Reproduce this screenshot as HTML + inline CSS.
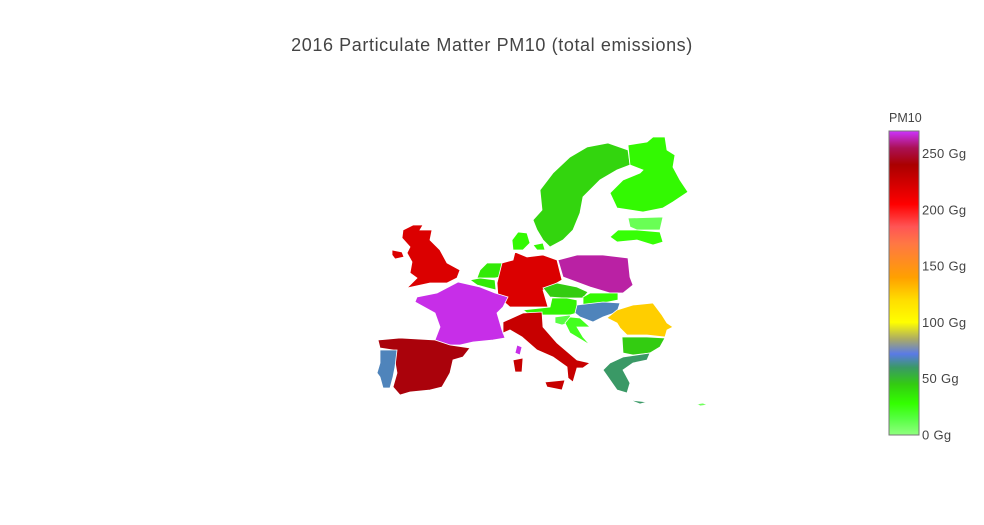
<!DOCTYPE html>
<html><head><meta charset="utf-8">
<style>
html,body{margin:0;padding:0;background:#fff;}
svg{display:block;font-family:"Liberation Sans",sans-serif;}
</style></head>
<body>
<svg id="chart" width="984" height="525" viewBox="0 0 984 525">
<text x="492" y="51" text-anchor="middle" font-size="18" letter-spacing="0.6" fill="#444">2016 Particulate Matter PM10 (total emissions)</text>
<g id="map"></g>
<g id="cbar"></g>
</svg>
<script>
const countries=["Sweden","Finland","Estonia","Latvia-Lithuania","Denmark","Denmark-Islands","United Kingdom","Ireland","Netherlands","Belgium","Germany","Poland","Czechia","Slovakia","Austria","Hungary","Slovenia","Croatia","Romania","Bulgaria","Greece","Crete","Cyprus","France","Corsica","Italy","Sardinia","Sicily","Spain","Portugal"];
const values=[42,30,10,27,30,30,220,220,35,35,220,262,45,30,32,68,14,22,125,45,60,60,8,268,268,228,228,228,242,68];
const tickValues=[0,50,100,150,200,250];
const tickLabels=["0 Gg","50 Gg","100 Gg","150 Gg","200 Gg","250 Gg"];
const shapes={
"Sweden":[[608,143],[628,150],[630,165],[617,170],[600,180],[583,197],[580,213],[573,230],[563,240],[550,247],[543,240],[537,230],[533,220],[542,210],[540,190],[553,173],[570,157],[587,147]],
"Finland":[[628,145],[647,142],[653,137],[665,137],[667,150],[675,155],[673,167],[680,180],[688,192],[673,202],[663,208],[643,212],[617,208],[610,193],[623,180],[640,173],[643,170],[630,165]],
"Estonia":[[628,218],[663,217],[660,230],[637,230],[630,227]],
"Latvia-Lithuania":[[610,237],[618,230],[637,230],[660,232],[663,242],[653,245],[637,240],[617,242]],
"Denmark":[[512,240],[518,232],[527,233],[530,243],[523,250],[513,250]],
"Denmark-Islands":[[533,245],[543,243],[545,250],[537,250]],
"United Kingdom":[[403,230],[413,225],[423,225],[420,230],[432,230],[430,240],[440,250],[447,263],[460,270],[457,278],[447,283],[430,283],[407,288],[417,278],[410,273],[412,262],[407,253],[410,247],[402,238]],
"Ireland":[[392,250],[402,252],[404,257],[395,259],[392,255]],
"Netherlands":[[480,270],[487,263],[502,263],[500,277],[495,278],[488,278],[477,278]],
"Belgium":[[470,280],[480,278],[495,280],[496,290],[488,288],[477,285]],
"Germany":[[515,252],[527,257],[543,255],[557,260],[562,280],[550,287],[543,290],[548,307],[527,307],[510,307],[498,297],[497,283],[502,263],[513,260]],
"Poland":[[558,260],[577,255],[603,255],[628,258],[630,277],[633,285],[623,293],[610,293],[590,287],[563,277]],
"Czechia":[[543,288],[557,283],[577,287],[588,292],[583,298],[563,298],[550,297]],
"Slovakia":[[583,297],[590,293],[618,293],[618,300],[603,303],[583,305]],
"Austria":[[523,310],[550,307],[552,298],[567,298],[577,300],[577,313],[570,315],[543,315],[527,313]],
"Hungary":[[577,305],[603,302],[620,303],[617,312],[603,317],[593,322],[580,317],[575,313]],
"Slovenia":[[555,317],[570,315],[572,322],[562,325],[555,323]],
"Croatia":[[570,317],[580,318],[590,327],[577,327],[583,337],[590,345],[570,333],[565,323]],
"Romania":[[617,310],[633,305],[653,303],[662,315],[667,323],[673,327],[667,330],[665,337],[647,335],[627,335],[620,328],[617,323],[607,318]],
"Bulgaria":[[622,337],[647,337],[665,338],[660,347],[650,353],[633,355],[623,353]],
"Greece":[[610,363],[623,357],[650,353],[647,360],[633,363],[623,370],[630,383],[627,393],[617,390],[610,380],[603,370]],
"Crete":[[630,400],[647,402],[640,404]],
"Cyprus":[[697,404],[703,403],[707,405],[700,406]],
"France":[[437,293],[458,282],[480,287],[495,293],[508,297],[503,307],[497,313],[502,330],[505,338],[493,340],[473,342],[460,345],[450,345],[435,340],[440,327],[435,313],[415,302],[417,297]],
"Corsica":[[517,345],[522,347],[520,355],[515,353]],
"Italy":[[503,322],[523,313],[542,312],[543,327],[557,343],[577,360],[590,363],[583,368],[577,368],[573,382],[568,378],[567,367],[553,357],[537,350],[522,337],[510,330],[503,333]],
"Sardinia":[[513,360],[523,358],[522,372],[515,372]],
"Sicily":[[545,382],[565,380],[562,390],[547,387]],
"Spain":[[378,340],[400,338],[435,340],[450,345],[470,348],[463,357],[453,360],[450,373],[442,387],[430,390],[410,392],[400,395],[393,387],[397,373],[393,350],[380,348]],
"Portugal":[[380,350],[397,350],[395,367],[393,377],[390,388],[383,388],[380,377],[377,373],[380,363]]
};
const stops=[[0,"#90ff80"],[15,"#55ff40"],[28,"#33ff00"],[45,"#33cc11"],[60,"#3a9966"],[72,"#5a7ae6"],[85,"#aaaa66"],[100,"#ffff00"],[120,"#ffdd00"],[140,"#ffa000"],[170,"#ff7744"],[185,"#ff5555"],[205,"#ff0000"],[240,"#aa0000"],[255,"#aa1155"],[270,"#cc33ff"]];
const vmin=0,vmax=270;
function hex(c){return [1,3,5].map(i=>parseInt(c.substr(i,2),16));}
function colorOf(v){
  if(v<=stops[0][0])return stops[0][1];
  for(let i=1;i<stops.length;i++){
    if(v<=stops[i][0]){const a=stops[i-1],b=stops[i];const t=(v-a[0])/(b[0]-a[0]);
      const ca=hex(a[1]),cb=hex(b[1]);return "rgb("+ca.map((x,k)=>Math.round(x+(cb[k]-x)*t)).join(",")+")";}
  }
  return stops[stops.length-1][1];
}
const NS="http://www.w3.org/2000/svg";
const mapG=document.getElementById("map");
countries.forEach((c,i)=>{
  const p=document.createElementNS(NS,"polygon");
  p.setAttribute("points",shapes[c].map(q=>q.join(",")).join(" "));
  p.setAttribute("fill",colorOf(values[i]));
  p.setAttribute("stroke","#fff");p.setAttribute("stroke-width","0.8");
  
  
  const t=document.createElementNS(NS,"title");t.textContent=c+": "+values[i]+" Gg";p.appendChild(t);
  mapG.appendChild(p);
});
const cbG=document.getElementById("cbar");
const cbTop=131,cbBot=435,cbX=889,cbW=30;
function yOf(v){return cbBot-(v-vmin)/(vmax-vmin)*(cbBot-cbTop);}
const defs=document.createElementNS(NS,"defs");
const lg=document.createElementNS(NS,"linearGradient");
lg.setAttribute("id","grad");lg.setAttribute("x1","0");lg.setAttribute("y1","1");lg.setAttribute("x2","0");lg.setAttribute("y2","0");
stops.forEach(s=>{const st=document.createElementNS(NS,"stop");st.setAttribute("offset",(s[0]-vmin)/(vmax-vmin));st.setAttribute("stop-color",s[1]);lg.appendChild(st);});
defs.appendChild(lg);cbG.appendChild(defs);
const r=document.createElementNS(NS,"rect");
r.setAttribute("x",cbX);r.setAttribute("y",cbTop);r.setAttribute("width",cbW);r.setAttribute("height",cbBot-cbTop);
r.setAttribute("fill","url(#grad)");r.setAttribute("stroke","#777");r.setAttribute("stroke-width","1");


cbG.appendChild(r);
const ttl=document.createElementNS(NS,"text");
ttl.setAttribute("x",cbX);ttl.setAttribute("y",122);ttl.setAttribute("font-size","12.5");ttl.setAttribute("fill","#444");ttl.textContent="PM10";


cbG.appendChild(ttl);
tickValues.forEach((v,i)=>{
  const t=document.createElementNS(NS,"text");
  t.setAttribute("x",cbX+cbW+3);t.setAttribute("y",yOf(v)+4.5);t.setAttribute("font-size","13");t.setAttribute("letter-spacing","0.3");t.setAttribute("fill","#444");
  t.textContent=tickLabels[i];
  
  
  cbG.appendChild(t);
});
</script>
</body></html>
